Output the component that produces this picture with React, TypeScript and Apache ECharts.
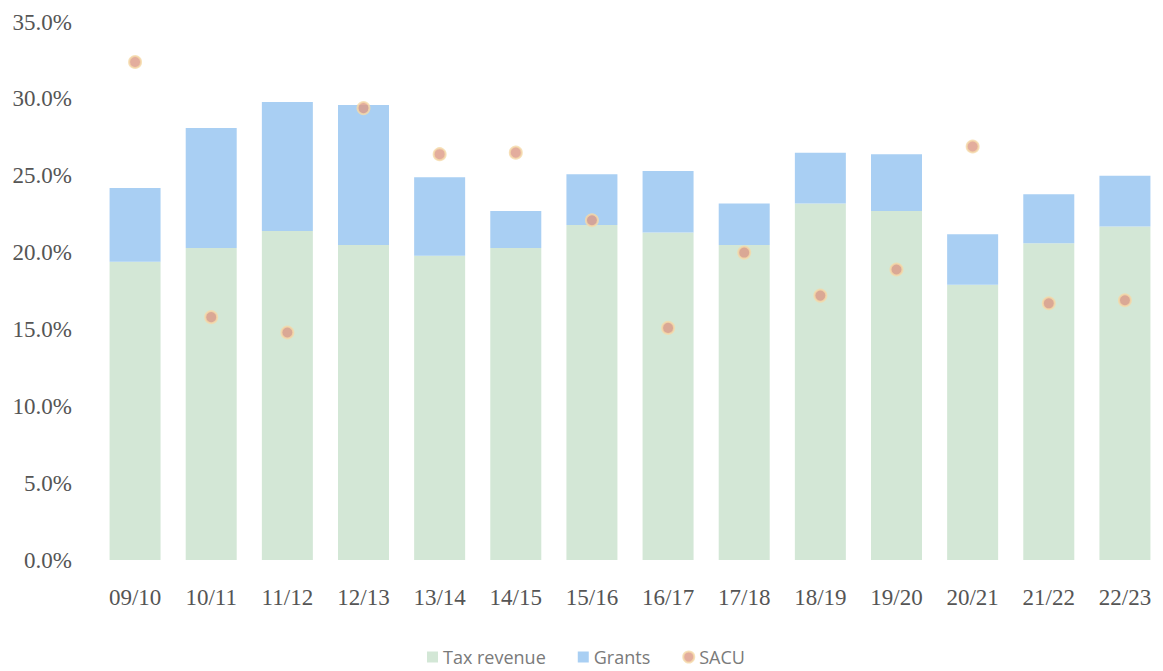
import React, { useEffect, useRef } from "react";
import * as echarts from "echarts";

const categories = ["09/10", "10/11", "11/12", "12/13", "13/14", "14/15", "15/16", "16/17", "17/18", "18/19", "19/20", "20/21", "21/22", "22/23"];
const taxRevenue = [19.4, 20.3, 21.4, 20.5, 19.8, 20.3, 21.8, 21.3, 20.5, 23.2, 22.7, 17.9, 20.6, 21.7];
const grants = [4.8, 7.8, 8.4, 9.1, 5.1, 2.4, 3.3, 4.0, 2.7, 3.3, 3.7, 3.3, 3.2, 3.3];
const sacu = [32.4, 15.8, 14.8, 29.4, 26.4, 26.5, 22.1, 15.1, 20.0, 17.2, 18.9, 26.9, 16.7, 16.9];

export default function App() {
  const ref = useRef<HTMLDivElement>(null);
  useEffect(() => {
    document.body.style.margin = "0";
    if (!ref.current) return;
    const chart = echarts.init(ref.current, undefined, { renderer: "svg" });
    chart.setOption({
      animation: false,
      backgroundColor: "#ffffff",
      grid: { left: 97, top: 22, width: 1071, height: 538 },
      legend: {
        left: 427,
        top: 647,
        padding: 0,
        itemWidth: 11,
        itemHeight: 11,
        itemGap: 32,
        textStyle: { fontFamily: "Open Sans", fontSize: 18, lineHeight: 20, color: "#7a7a7a" },
        data: [
          { name: "Tax revenue", icon: "rect" },
          { name: "Grants", icon: "rect" },
          { name: "SACU", icon: "circle" },
        ],
      },
      xAxis: {
        type: "category",
        data: categories,
        axisLine: { show: false },
        axisTick: { show: false },
        axisLabel: { margin: 26, fontFamily: "Liberation Serif", fontSize: 23, color: "#555555" },
      },
      yAxis: {
        type: "value",
        min: 0,
        max: 35,
        interval: 5,
        splitLine: { show: false },
        axisLine: { show: false },
        axisTick: { show: false },
        axisLabel: {
          margin: 25,
          fontFamily: "Liberation Serif",
          fontSize: 23,
          color: "#555555",
          formatter: (v: number) => v.toFixed(1) + "%",
        },
      },
      series: [
        {
          name: "Tax revenue",
          type: "bar",
          stack: "total",
          barWidth: 51,
          data: taxRevenue,
          itemStyle: { color: "#d3e7d6" },
        },
        {
          name: "Grants",
          type: "bar",
          stack: "total",
          barWidth: 51,
          data: grants,
          itemStyle: { color: "#a9cff3" },
        },
        {
          name: "SACU",
          type: "scatter",
          data: sacu,
          symbolSize: 12,
          itemStyle: { color: "#dc9984", borderColor: "#f5d9a9", borderWidth: 2 },
          z: 5,
        },
      ],
    });
    return () => chart.dispose();
  }, []);
  return <div ref={ref} style={{ width: 1163, height: 671 }} />;
}
